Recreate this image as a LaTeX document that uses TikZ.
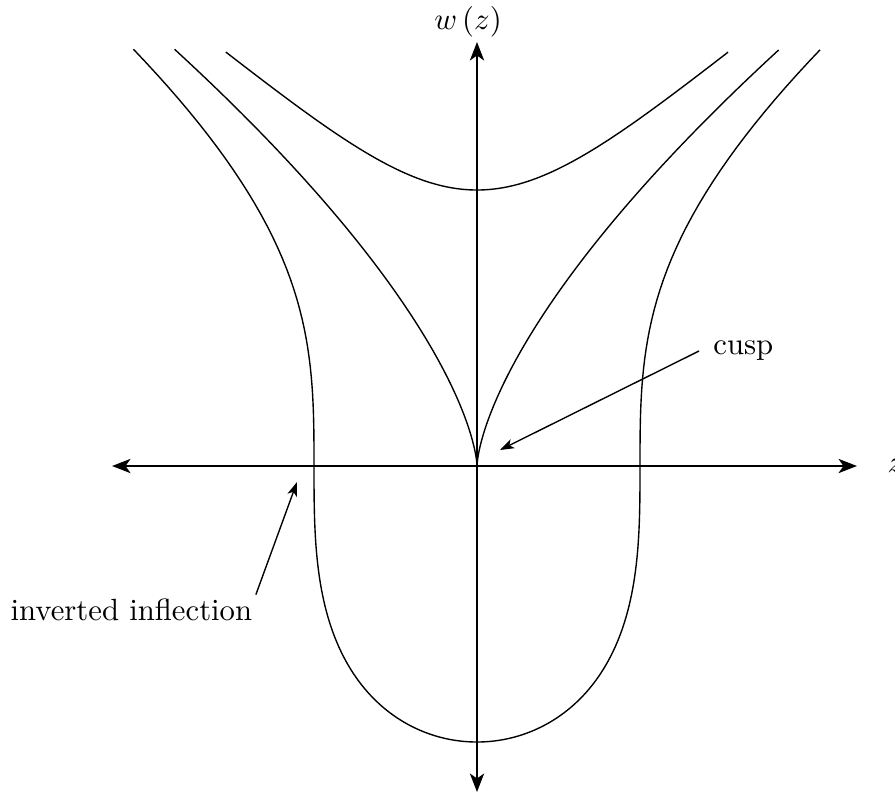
\documentclass[tikz,border=0pt]{standalone}
\usetikzlibrary{arrows.meta}
\begin{document}
\begin{tikzpicture}[x=0.3257pt,y=-0.3257pt,
  axis/.style={line width=0.85pt,{Stealth[length=6pt,width=4.6pt,inset=1.6pt]}-{Stealth[length=6pt,width=4.6pt,inset=1.6pt]}},
  curve/.style={line width=0.45pt},
  note/.style={line width=0.45pt,-{Stealth[length=4.6pt,width=3.2pt,inset=1.2pt]}},
  lbl/.style={inner sep=0pt}]
\useasboundingbox (0,0) rectangle (895,794);
\coordinate (L) at (112,466);
\coordinate (R) at (857,466);
\coordinate (T) at (477,42);
\coordinate (B) at (477,792);
\draw[axis] (L) -- (R);
\draw[axis] (B) -- (T);
% w^3 = z^2 + 1
\draw[curve] plot[domain=-1.541:1.541, samples=160, variable=\t]
  ({477+163*\t},{466-276*pow(\t*\t+1,1/3)});
% w^3 = z^2 (cusp)
\draw[curve] plot[domain=-1.2288:1.2288, samples=200, variable=\t]
  ({477+163*\t*\t*\t},{466-276*\t*\t});
% w^3 = z^2 - 1
\draw[curve] plot[domain=-1.5843:1.5843, samples=220, variable=\t]
  ({477+163*\t*sqrt(\t*\t*\t*\t-3*\t*\t+3)},{466-276*(\t*\t-1)});
\node[lbl,anchor=west] (zl) at (887,466) {$z$};
\node[lbl] (wl) at (468,22) {$w\left(z\right)$};
\node[inner sep=4.5pt,anchor=west] (cusp) at (699,351) {cusp};
\coordinate (cusptip) at (500,450);
\draw[note] (cusp.west) -- (cusptip);
\node[inner sep=1pt,anchor=base west] (infl) at (7,620) {inverted inflection};
\coordinate (infltip) at (297,482);
\draw[note] (infl.north east) -- (infltip);
\end{tikzpicture}
\end{document}
